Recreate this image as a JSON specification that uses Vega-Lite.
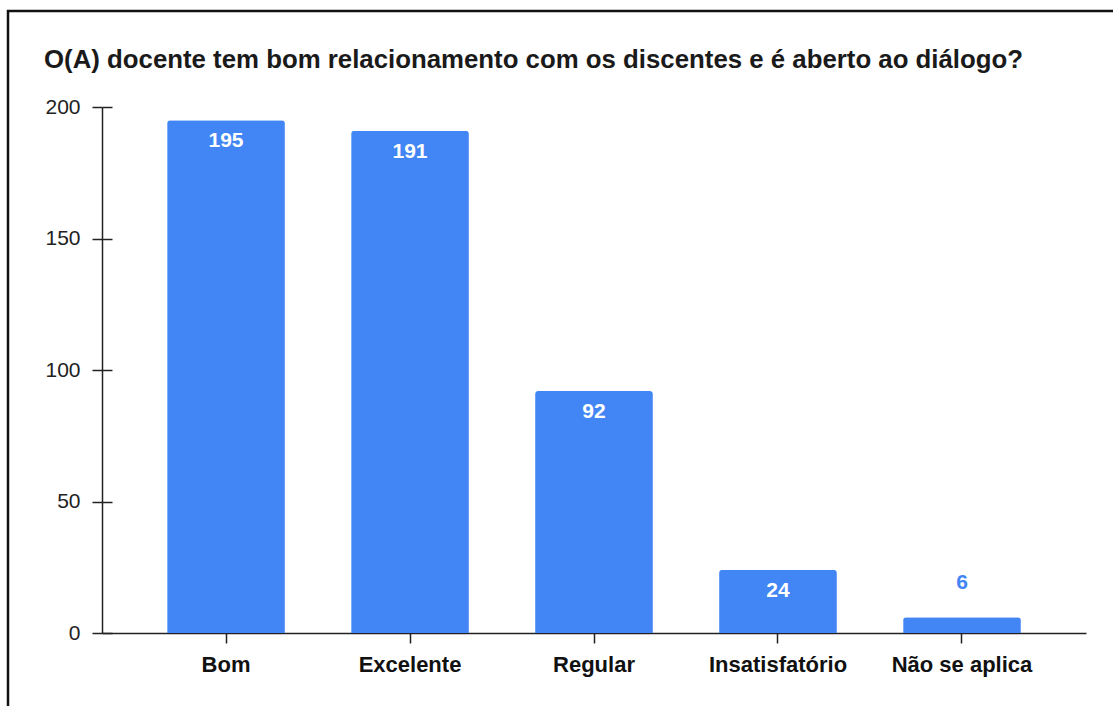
{
  "$schema": "https://vega.github.io/schema/vega-lite/v6.json",
  "width": 1115,
  "height": 705,
  "autosize": "none",
  "padding": {"left": 8, "top": 11, "right": 0, "bottom": 0},
  "background": "white",
  "title": {
    "text": "O(A) docente tem bom relacionamento com os discentes e é aberto ao diálogo?",
    "anchor": "start",
    "frame": "group",
    "font": "Liberation Sans",
    "fontSize": 25.8,
    "fontWeight": "bold",
    "color": "#1a1a1a",
    "baseline": "alphabetic",
    "dx": 36,
    "dy": 83,
    "offset": 0
  },
  "config": {
    "view": {"stroke": "#111", "strokeWidth": 2.5},
    "font": "Liberation Sans"
  },
  "data": {
    "values": [
      {"resposta": "Bom", "total": 195},
      {"resposta": "Excelente", "total": 191},
      {"resposta": "Regular", "total": 92},
      {"resposta": "Insatisfatório", "total": 24},
      {"resposta": "Não se aplica", "total": 6}
    ]
  },
  "layer": [
    {
      "mark": {"type": "bar", "color": "#4285F4", "cornerRadiusTopLeft": 3, "cornerRadiusTopRight": 3},
      "encoding": {
        "x": {
          "field": "resposta", "type": "nominal", "sort": null,
          "scale": {"range": [94, 1078], "paddingInner": 0.36, "paddingOuter": 0.354},
          "axis": {
            "orient": "bottom", "offset": -83, "title": null, "labelAngle": 0,
            "labelFont": "Liberation Sans", "labelFontSize": 22, "labelFontWeight": "bold", "labelColor": "#111",
            "labelPadding": 11, "tickSize": 10, "tickColor": "#222", "tickWidth": 1.5,
            "domainColor": "#222", "domainWidth": 1.5, "grid": false
          }
        },
        "y": {
          "field": "total", "type": "quantitative",
          "scale": {"domain": [0, 200], "range": [622, 96], "nice": false},
          "axis": {
            "orient": "left", "offset": -94, "title": null, "values": [0, 50, 100, 150, 200],
            "labelFont": "Liberation Sans", "labelFontSize": 21, "labelColor": "#222",
            "labelPadding": 12, "tickSize": 10, "tickColor": "#222", "tickWidth": 1.5,
            "domainColor": "#222", "domainWidth": 1.5, "grid": false
          }
        }
      }
    },
    {
      "transform": [{"filter": "datum.total >= 20"}],
      "mark": {"type": "text", "color": "white", "fontWeight": "bold", "fontSize": 21, "baseline": "middle", "dy": 21, "font": "Liberation Sans"},
      "encoding": {
        "x": {
          "field": "resposta", "type": "nominal", "sort": null,
          "axis": {"orient": "bottom", "offset": -83, "title": null, "labels": false, "domain": false, "tickSize": -10, "tickColor": "#222", "tickWidth": 1.5, "grid": false}
        },
        "y": {
          "field": "total", "type": "quantitative",
          "axis": {"orient": "left", "offset": -94, "title": null, "labels": false, "domain": false, "values": [0, 50, 100, 150, 200], "tickSize": -10, "tickColor": "#222", "tickWidth": 1.5, "grid": false}
        },
        "text": {"field": "total", "type": "quantitative"}
      }
    },
    {
      "transform": [{"filter": "datum.total < 20"}],
      "mark": {"type": "text", "color": "#4285F4", "fontWeight": "bold", "fontSize": 21, "baseline": "middle", "dy": -34, "font": "Liberation Sans"},
      "encoding": {
        "x": {"field": "resposta", "type": "nominal", "sort": null, "axis": null},
        "y": {"field": "total", "type": "quantitative", "axis": null},
        "text": {"field": "total", "type": "quantitative"}
      }
    }
  ],
  "resolve": {"axis": {"x": "independent", "y": "independent"}}
}
